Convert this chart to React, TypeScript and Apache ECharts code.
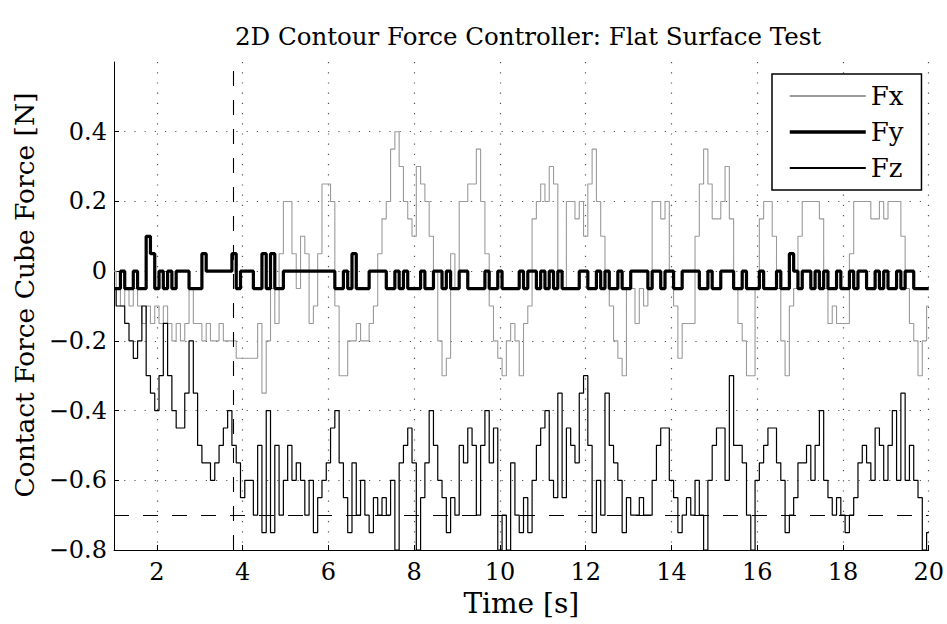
import React, { useEffect, useRef } from "react";
import * as echarts from "echarts";

// Sampling of the recorded signals (one value every TIME_STEP seconds from TIME_START)
const TIME_START = 1.0;
const TIME_STEP = 0.1;

// Fx [N]
const fxValues = [
  0, -0.05, -0.1, -0.05, -0.1, -0.05, -0.1, -0.15, -0.1, -0.15,
  -0.1, -0.15, -0.1, -0.15, -0.2, -0.15, -0.2, -0.15, -0.05, -0.15,
  -0.15, -0.2, -0.15, -0.2, -0.2, -0.15, -0.2, -0.2, -0.2, -0.25,
  -0.25, -0.25, -0.25, -0.25, -0.15, -0.35, -0.2, -0.05, -0.15, 0.05,
  0.2, 0.2, 0.05, -0.05, 0.1, 0.05, -0.15, -0.1, 0.05, 0.25,
  0.25, 0.2, -0.1, -0.3, -0.3, -0.2, -0.2, -0.15, -0.2, -0.2,
  -0.15, -0.1, 0.05, 0.15, 0.2, 0.35, 0.4, 0.3, 0.2, 0.15,
  0.1, 0.3, 0.25, 0.2, 0.1, 0, -0.2, -0.3, -0.25, 0.05,
  -0.05, 0.2, 0.2, 0.25, 0.25, 0.35, 0.2, 0.05, -0.1, -0.2,
  -0.25, -0.3, -0.2, -0.15, -0.2, -0.3, -0.15, -0.1, 0.15, 0.2,
  0.25, 0.2, 0.3, 0.25, 0, -0.05, 0.2, 0.2, 0.15, 0.2,
  0.1, 0.25, 0.35, 0.2, 0.1, 0, -0.1, -0.2, -0.25, -0.3,
  -0.05, -0.05, -0.15, -0.05, -0.1, -0.05, 0.2, 0.2, 0.15, 0.2,
  0, -0.1, -0.25, -0.15, -0.15, -0.15, 0.1, 0.25, 0.35, 0.25,
  0.15, 0.15, 0.2, 0.3, 0.15, -0.05, -0.15, -0.2, -0.3, -0.3,
  -0.05, 0.15, 0.2, 0.2, 0.1, -0.05, -0.2, -0.3, -0.1, -0.05,
  0.1, 0.2, 0.2, 0.2, 0.2, 0.15, -0.05, -0.15, -0.1, -0.15,
  -0.15, -0.15, 0.05, 0.2, 0.2, 0.2, 0.2, 0.15, 0.15, 0.2,
  0.15, 0.2, 0.2, 0.2, 0.1, -0.05, -0.15, -0.2, -0.3, -0.2,
  -0.1,
];

// Fy [N]
const fyValues = [
  -0.05, -0.05, 0, -0.05, -0.05, 0, -0.05, -0.05, 0.1, 0.05,
  -0.05, 0, -0.05, 0, -0.05, 0, 0, 0, -0.05, -0.05,
  -0.05, 0.05, 0, 0, 0, 0, 0, 0, 0.05, -0.05,
  0, 0, 0, -0.05, -0.05, 0.05, -0.05, 0.05, -0.05, -0.05,
  0, 0, 0, 0, 0, 0, 0, 0, 0, 0,
  0, 0, -0.05, -0.05, 0, -0.05, 0.05, -0.05, -0.05, -0.05,
  0, 0, 0, 0, -0.05, -0.05, 0, -0.05, 0, -0.05,
  -0.05, -0.05, 0, -0.05, -0.05, 0, 0, -0.05, 0, -0.05,
  -0.05, 0, 0, -0.05, -0.05, -0.05, -0.05, 0, -0.05, -0.05,
  0, -0.05, -0.05, -0.05, -0.05, 0, -0.05, 0, 0, -0.05,
  0, -0.05, 0, -0.05, 0, -0.05, -0.05, -0.05, -0.05, 0,
  0, -0.05, -0.05, 0, -0.05, 0, -0.05, -0.05, 0, -0.05,
  -0.05, 0, 0, 0, 0, -0.05, 0, 0, -0.05, 0,
  0, -0.05, -0.05, 0, 0, 0, 0, -0.05, -0.05, 0,
  -0.05, -0.05, 0, 0, 0, -0.05, -0.05, 0, -0.05, -0.05,
  -0.05, 0, -0.05, -0.05, -0.05, 0, -0.05, -0.05, 0.05, 0,
  -0.05, 0, 0, -0.05, 0, -0.05, 0, -0.05, -0.05, 0,
  -0.05, -0.05, 0, -0.05, 0, 0, -0.05, -0.05, 0, -0.05,
  0, -0.05, -0.05, 0, -0.05, 0, 0, -0.05, -0.05, -0.05,
  -0.05,
];

// Fz [N]
const fzValues = [
  -0.05, -0.1, -0.1, -0.15, -0.2, -0.25, -0.2, -0.1, -0.3, -0.35,
  -0.4, -0.3, -0.15, -0.3, -0.4, -0.45, -0.45, -0.35, -0.2, -0.35,
  -0.5, -0.55, -0.55, -0.6, -0.55, -0.5, -0.45, -0.4, -0.5, -0.55,
  -0.65, -0.6, -0.6, -0.7, -0.5, -0.75, -0.4, -0.75, -0.5, -0.7,
  -0.6, -0.5, -0.6, -0.55, -0.6, -0.7, -0.6, -0.75, -0.65, -0.6,
  -0.55, -0.45, -0.4, -0.55, -0.65, -0.75, -0.55, -0.7, -0.6, -0.7,
  -0.75, -0.65, -0.7, -0.65, -0.7, -0.6, -0.8, -0.55, -0.5, -0.45,
  -0.55, -0.8, -0.65, -0.55, -0.4, -0.5, -0.6, -0.65, -0.75, -0.65,
  -0.7, -0.5, -0.55, -0.45, -0.5, -0.7, -0.5, -0.4, -0.55, -0.45,
  -0.8, -0.7, -0.8, -0.55, -0.7, -0.75, -0.65, -0.75, -0.6, -0.5,
  -0.45, -0.4, -0.6, -0.65, -0.35, -0.65, -0.45, -0.5, -0.55, -0.35,
  -0.3, -0.5, -0.75, -0.6, -0.7, -0.35, -0.5, -0.55, -0.6, -0.75,
  -0.65, -0.7, -0.7, -0.65, -0.7, -0.7, -0.6, -0.5, -0.45, -0.45,
  -0.6, -0.65, -0.75, -0.7, -0.65, -0.7, -0.6, -0.7, -0.8, -0.6,
  -0.5, -0.45, -0.45, -0.6, -0.3, -0.5, -0.5, -0.55, -0.7, -0.8,
  -0.6, -0.55, -0.5, -0.45, -0.45, -0.55, -0.6, -0.75, -0.7, -0.65,
  -0.55, -0.55, -0.5, -0.6, -0.5, -0.4, -0.6, -0.65, -0.7, -0.65,
  -0.7, -0.75, -0.7, -0.65, -0.55, -0.5, -0.55, -0.6, -0.45, -0.5,
  -0.6, -0.5, -0.4, -0.6, -0.35, -0.6, -0.5, -0.6, -0.65, -0.8,
  -0.75,
];

const xTicks = [2, 4, 6, 8, 10, 12, 14, 16, 18, 20];
const yTicks = [-0.8, -0.6, -0.4, -0.2, 0, 0.2, 0.4];

const contactTime = 3.77; // dashed vertical marker [s]
const referenceForce = -0.7; // dashed horizontal reference [N]

const FONT = "'DejaVu Serif', 'Liberation Serif', serif";

const toPairs = (vals: number[]) =>
  vals.map((v, i) => [Number((TIME_START + i * TIME_STEP).toFixed(2)), v]);

const fmtY = (v: number) => {
  if (Math.abs(v) < 1e-9) return "0";
  const s = Math.abs(v).toFixed(1);
  return v < 0 ? "\u2212" + s : s;
};

export default function App() {
  const ref = useRef<HTMLDivElement>(null);

  useEffect(() => {
    if (!ref.current) return;
    const chart = echarts.init(ref.current, undefined, { renderer: "svg" });
    const dotted = { type: [1.2, 9] as any, color: "#555", width: 1.2 };
    chart.setOption({
      animation: false,
      backgroundColor: "#fff",
      textStyle: { fontFamily: FONT },
      title: {
        text: "2D Contour Force Controller: Flat Surface Test",
        left: 523,
        top: 19,
        textAlign: "center",
        textStyle: {
          fontFamily: FONT,
          fontSize: 24.5,
          fontWeight: "normal",
          color: "#000",
        },
      },
      legend: {
        data: [
          { name: "Fx" },
          { name: "Fy", lineStyle: { width: 3.5 } },
          { name: "Fz" },
        ],
        orient: "vertical",
        left: 772,
        top: 74,
        padding: [9, 18, 9, 16],
        itemWidth: 76,
        itemHeight: 14,
        itemGap: 10,
        itemStyle: { opacity: 0 },
        backgroundColor: "#fff",
        borderColor: "#000",
        borderWidth: 1.5,
        borderRadius: 0,
        textStyle: { fontFamily: FONT, fontSize: 26, color: "#000" },
      },
      grid: { left: 114, right: 16, top: 62, bottom: 74 },
      xAxis: {
        type: "value",
        min: 1,
        max: 20,
        name: "Time [s]",
        nameLocation: "middle",
        nameGap: 39,
        nameTextStyle: { fontFamily: FONT, fontSize: 28, color: "#000" },
        axisLine: { show: true, onZero: false, lineStyle: { color: "#000", width: 1 } },
        axisTick: { show: true, inside: true, length: 5, customValues: xTicks, lineStyle: { color: "#000" } },
        axisLabel: {
          customValues: xTicks,
          fontFamily: FONT,
          fontSize: 24,
          color: "#000",
          margin: 10,
        },
        splitLine: { show: true, lineStyle: dotted },
      },
      yAxis: {
        type: "value",
        min: -0.8,
        max: 0.6,
        name: "Contact Force Cube Force [N]",
        nameLocation: "middle",
        nameGap: 70,
        nameTextStyle: {
          fontFamily: FONT,
          fontSize: 26.5,
          color: "#000",
          padding: [0, 0, 0, 22],
        },
        axisLine: { show: true, onZero: false, lineStyle: { color: "#000", width: 1 } },
        axisTick: { show: true, inside: true, length: 5, customValues: yTicks, lineStyle: { color: "#000" } },
        axisLabel: {
          customValues: yTicks,
          formatter: (v: number) => fmtY(v),
          fontFamily: FONT,
          fontSize: 24,
          color: "#000",
          margin: 7,
        },
        splitLine: { show: true, lineStyle: dotted },
      },
      series: [
        {
          name: "Fx",
          type: "line",
          step: "middle",
          data: toPairs(fxValues),
          showSymbol: false,
          symbol: "none",
          lineStyle: { color: "#9a9a9a", width: 1.1 },
          itemStyle: { color: "#9a9a9a" },
          z: 2,
          markLine: {
            silent: true,
            symbol: "none",
            label: { show: false },
            lineStyle: { color: "#000", width: 1.1, type: [15, 14] as any },
            data: [{ xAxis: contactTime }, { yAxis: referenceForce }],
          },
        },
        {
          name: "Fy",
          type: "line",
          step: "middle",
          data: toPairs(fyValues),
          showSymbol: false,
          symbol: "none",
          lineStyle: { color: "#000", width: 3.2 },
          itemStyle: { color: "#000" },
          z: 3,
        },
        {
          name: "Fz",
          type: "line",
          step: "middle",
          data: toPairs(fzValues),
          showSymbol: false,
          symbol: "none",
          lineStyle: { color: "#000", width: 1.2 },
          itemStyle: { color: "#000" },
          z: 3,
        },
      ],
    });
    return () => chart.dispose();
  }, []);

  return (
    <div
      ref={ref}
      style={{ position: "absolute", left: 0, top: 0, width: 947, height: 624 }}
    />
  );
}
